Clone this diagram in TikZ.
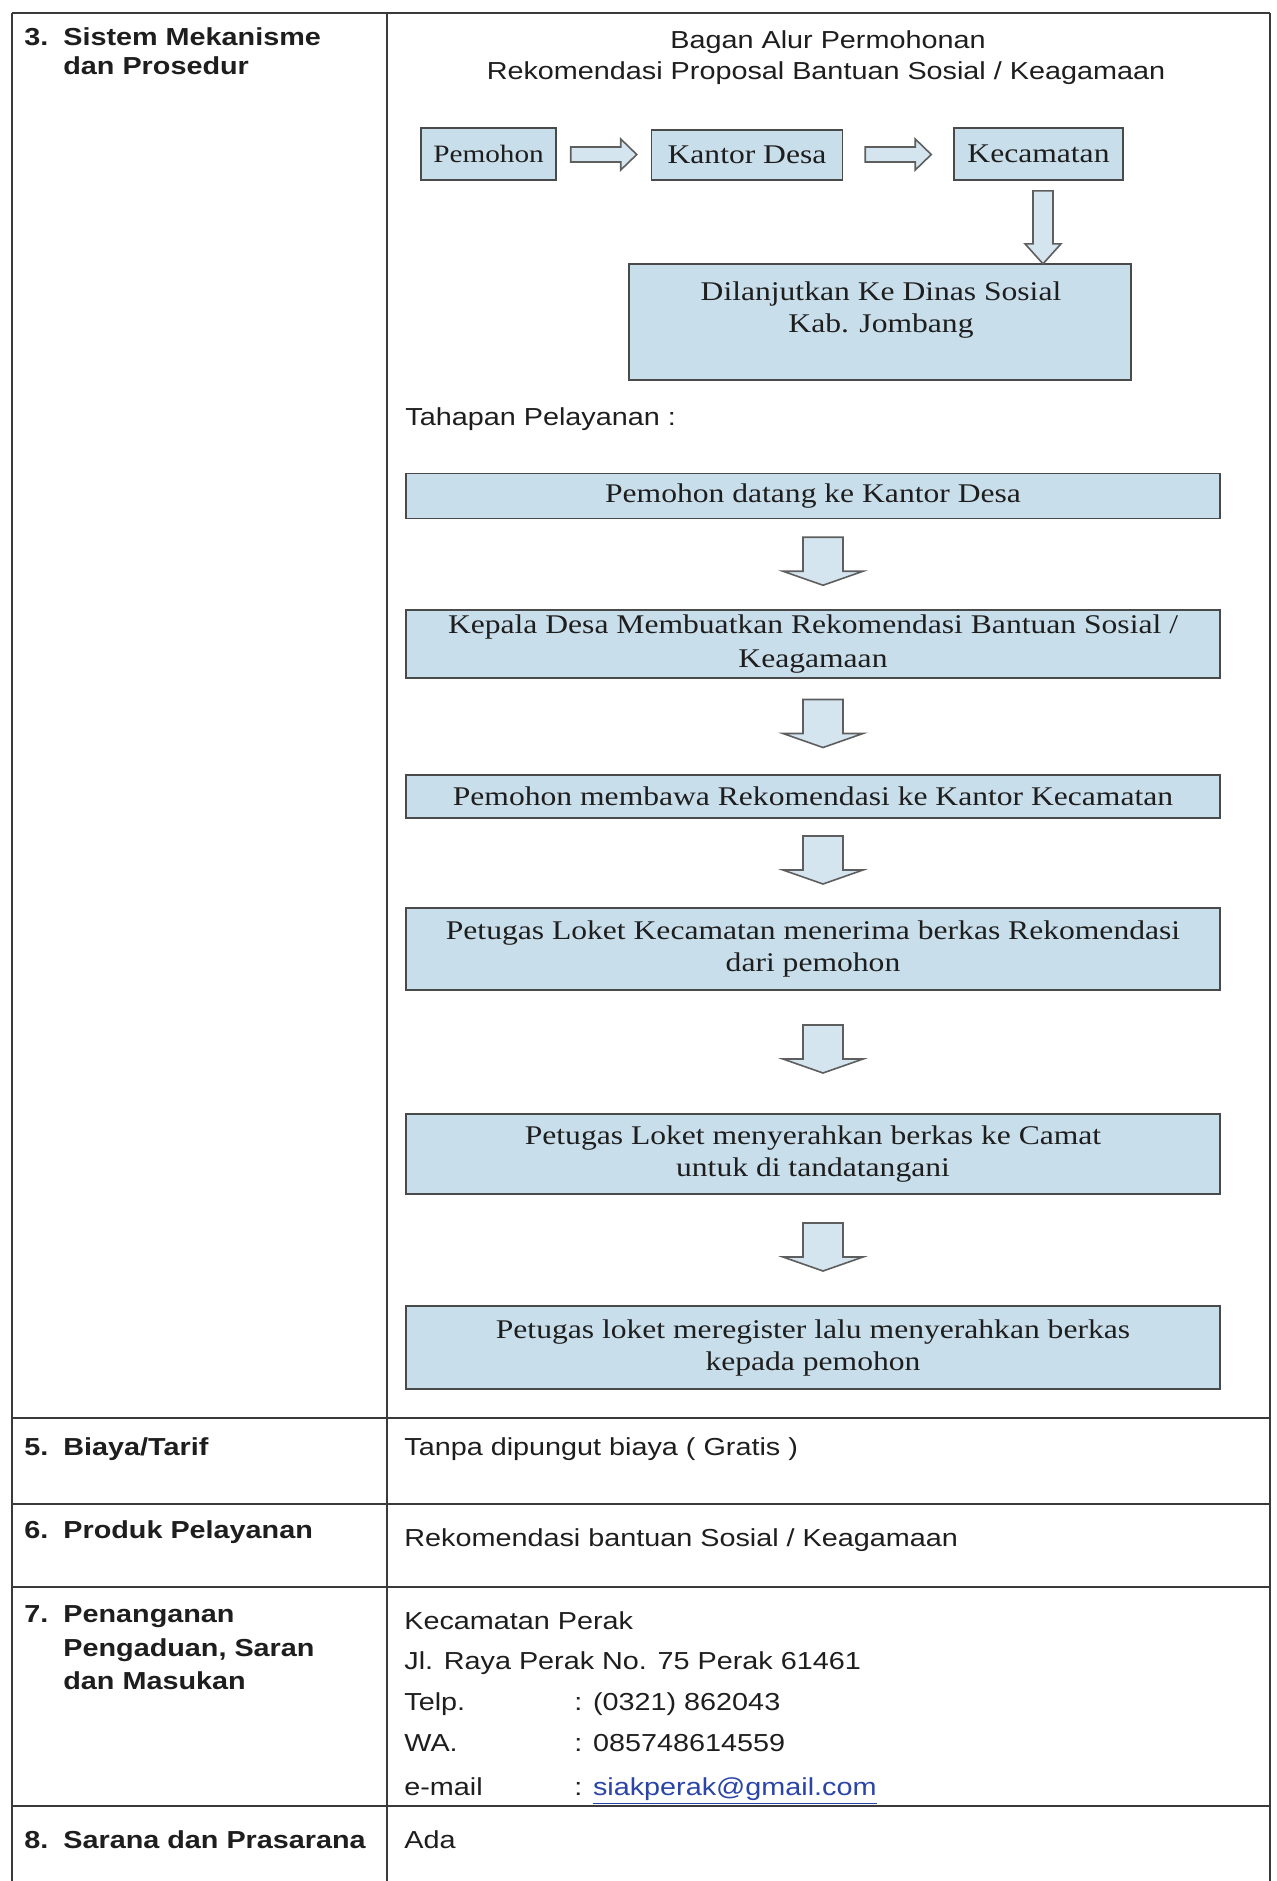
\documentclass[tikz,border=0pt]{standalone}
\usepackage{fontspec}
\newfontfamily\arialf[FakeStretch=1.17]{Liberation Sans}
\newfontfamily\tnrf[FakeStretch=1.17]{Liberation Serif}
\usetikzlibrary{calc}
\definecolor{boxfill}{HTML}{C9DEEB}
\definecolor{boxline}{HTML}{4A4A4A}
\definecolor{arrfill}{HTML}{D4E5EF}
\definecolor{arrline}{HTML}{5E5E5E}
\definecolor{txt}{HTML}{1E1E1E}
\definecolor{rulec}{HTML}{3A3A3A}
\definecolor{linkc}{HTML}{2A44A8}
\tikzset{
  hrule/.style={draw=rulec, line width=1.2pt},
  vrule/.style={draw=rulec, line width=0.8pt},
  lbl/.style={anchor=base west, inner sep=0pt, text=txt, font=\arialf\bfseries\fontsize{12.3}{14}\selectfont},
  val/.style={anchor=base west, inner sep=0pt, text=txt, font=\arialf\fontsize{12.3}{14}\selectfont},
  ttl/.style={anchor=base, inner sep=0pt, text=txt, font=\arialf\fontsize{12.3}{14}\selectfont},
  flowbox/.style={draw=boxline, line width=0.8pt, fill=boxfill, text=txt, align=center, inner sep=0pt, font=\tnrf\fontsize{13.5}{16}\selectfont},
  boxtxt/.style={anchor=base, inner sep=0pt, text=txt, font=\tnrf\fontsize{13.5}{16}\selectfont},
  blockline/.style={draw=arrline, line width=0.8pt, fill=arrfill},
  pics/blockarrow/.style n args={4}{code={%
    \path[blockline] (0,-#2) -- ({#1-#4},-#2) -- ({#1-#4},-#3) -- (#1,0) -- ({#1-#4},#3) -- ({#1-#4},#2) -- (0,#2) -- cycle;}},
}
\begin{document}
\begin{tikzpicture}[x=0.5pt,y=-0.5pt]
\useasboundingbox (0,0) rectangle (1276,1881);
\fill[white] (0,0) rectangle (1276,1881);

% table rules
\draw[vrule] (12,13) -- (12,1881);
\draw[vrule] (387,13) -- (387,1881);
\draw[vrule] (1270,13) -- (1270,1881);
\draw[hrule] (12,13) -- (1270,13);
\draw[hrule] (12,1418) -- (1270,1418);
\draw[hrule] (12,1504) -- (1270,1504);
\draw[hrule] (12,1587) -- (1270,1587);
\draw[hrule] (12,1806) -- (1270,1806);

% left column labels
\node[lbl] (n3) at (24,45) {3.};
\node[lbl] (l3a) at (63,45) {Sistem Mekanisme};
\node[lbl] (l3b) at (63,74) {dan Prosedur};
\node[lbl] (n5) at (24,1455) {5.};
\node[lbl] (l5) at (63,1455) {Biaya/Tarif};
\node[lbl] (n6) at (24,1538) {6.};
\node[lbl] (l6) at (63,1538) {Produk Pelayanan};
\node[lbl] (n7) at (24,1622) {7.};
\node[lbl] (l7a) at (63,1622) {Penanganan};
\node[lbl] (l7b) at (63,1656) {Pengaduan, Saran};
\node[lbl] (l7c) at (63,1689) {dan Masukan};
\node[lbl] (n8) at (24,1848) {8.};
\node[lbl] (l8) at (63,1848) {Sarana dan Prasarana};

% titles
\node[ttl] (t1) at (828,48) {Bagan Alur Permohonan};
\node[ttl] (t2) at (826,79) {Rekomendasi Proposal Bantuan Sosial / Keagamaan};

% top flow
\node[flowbox, minimum width=67.5pt, minimum height=26pt, font=\tnrf\fontsize{12.5}{15}\selectfont] (pem) at (488.5,154) {Pemohon};
\node[flowbox, minimum width=95.5pt, minimum height=25pt] (kd) at (747,155) {Kantor Desa};
\node[flowbox, minimum width=84.5pt, minimum height=26pt] (kec) at (1038.5,154) {Kecamatan};
\node[flowbox, minimum width=251pt, minimum height=58pt] (dinas) at (880,322) {};
\node[boxtxt] (dinast1) at (881,300) {Dilanjutkan Ke Dinas Sosial};
\node[boxtxt] (dinast2) at (881,332) {Kab. Jombang};

\pic at ($(pem.east)!0.5!(kd.west)+(-33,0)$) {blockarrow={66}{7.5}{15.5}{16}};
\pic at ($(kd.east)!0.5!(kec.west)+(-33,0)$) {blockarrow={66}{7.5}{15.5}{16}};
\pic[rotate=-90] at ($(kec.south)+(4.5,10)$) {blockarrow={73}{10}{18}{20}};

% Tahapan
\node[val] (tah) at (405,425) {Tahapan Pelayanan :};

\node[flowbox, minimum width=407pt, minimum height=22.5pt] (b1) at (813,496) {Pemohon datang ke Kantor Desa};
\node[flowbox, minimum width=407pt, minimum height=34pt] (b2) at (813,644) {Kepala Desa Membuatkan Rekomendasi Bantuan Sosial /\\[1pt]Keagamaan};
\node[flowbox, minimum width=407pt, minimum height=21.5pt] (b3) at (813,796.5) {Pemohon membawa Rekomendasi ke Kantor Kecamatan};
\node[flowbox, minimum width=407pt, minimum height=41pt] (b4) at (813,949) {Petugas Loket Kecamatan menerima berkas Rekomendasi\\dari pemohon};
\node[flowbox, minimum width=407pt, minimum height=40pt] (b5) at (813,1154) {Petugas Loket menyerahkan berkas ke Camat\\untuk di tandatangani};
\node[flowbox, minimum width=407pt, minimum height=41.5pt] (b6) at (813,1347.5) {Petugas loket meregister lalu menyerahkan berkas\\kepada pemohon};

\pic[rotate=-90] at ($(b1.south)!0.5!(b2.north)+(10,-27)$) {blockarrow={48}{20}{40}{14}};
\pic[rotate=-90] at ($(b2.south)!0.5!(b3.north)+(10,-27)$) {blockarrow={48}{20}{40}{14}};
\pic[rotate=-90] at ($(b3.south)!0.5!(b4.north)+(10,-27)$) {blockarrow={48}{20}{40}{14}};
\pic[rotate=-90] at ($(b4.south)!0.5!(b5.north)+(10,-27)$) {blockarrow={48}{20}{40}{14}};
\pic[rotate=-90] at ($(b5.south)!0.5!(b6.north)+(10,-27)$) {blockarrow={48}{20}{40}{14}};

% right column values
\node[val] (v5) at (404,1455) {Tanpa dipungut biaya ( Gratis )};
\node[val] (v6) at (404,1546) {Rekomendasi bantuan Sosial / Keagamaan};
\node[val] (v7a) at (404,1629) {Kecamatan Perak};
\node[val] (v7b) at (404,1669) {Jl. Raya Perak No. 75 Perak 61461};
\node[val] (v7c) at (404,1710) {Telp.};
\node[val] (v7cv) at (574,1710) {: (0321) 862043};
\node[val] (v7d) at (404,1751) {WA.};
\node[val] (v7dv) at (574,1751) {: 085748614559};
\node[val] (v7e) at (404,1795) {e-mail};
\node[val] (v7ev) at (574,1795) {: \textcolor{linkc}{\underline{siakperak@gmail.com}}};
\node[val] (v8) at (404,1848) {Ada};
\end{tikzpicture}
\end{document}
